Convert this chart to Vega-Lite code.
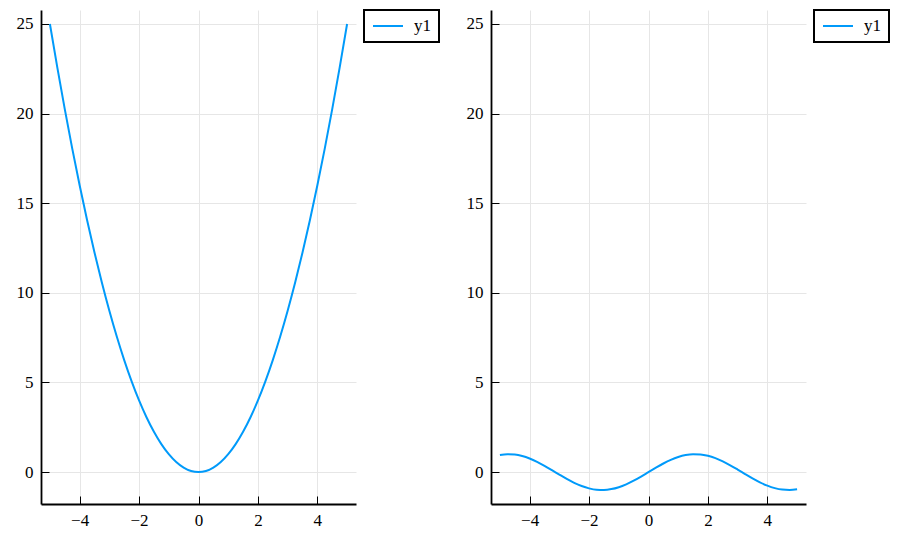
{
  "$schema": "https://vega.github.io/schema/vega-lite/v6.json",
  "background": "white",
  "padding": {"left": 16, "top": 9, "right": 5, "bottom": 5},
  "datasets": {
    "quad": [
      {"x": -5, "y": 25, "series": "y1"}, {"x": -4.75, "y": 22.5625, "series": "y1"}, {"x": -4.5, "y": 20.25, "series": "y1"}, {"x": -4.25, "y": 18.0625, "series": "y1"},
      {"x": -4, "y": 16, "series": "y1"}, {"x": -3.75, "y": 14.0625, "series": "y1"}, {"x": -3.5, "y": 12.25, "series": "y1"}, {"x": -3.25, "y": 10.5625, "series": "y1"},
      {"x": -3, "y": 9, "series": "y1"}, {"x": -2.75, "y": 7.5625, "series": "y1"}, {"x": -2.5, "y": 6.25, "series": "y1"}, {"x": -2.25, "y": 5.0625, "series": "y1"},
      {"x": -2, "y": 4, "series": "y1"}, {"x": -1.75, "y": 3.0625, "series": "y1"}, {"x": -1.5, "y": 2.25, "series": "y1"}, {"x": -1.25, "y": 1.5625, "series": "y1"},
      {"x": -1, "y": 1, "series": "y1"}, {"x": -0.75, "y": 0.5625, "series": "y1"}, {"x": -0.5, "y": 0.25, "series": "y1"}, {"x": -0.25, "y": 0.0625, "series": "y1"},
      {"x": 0, "y": 0, "series": "y1"},
      {"x": 0.25, "y": 0.0625, "series": "y1"}, {"x": 0.5, "y": 0.25, "series": "y1"}, {"x": 0.75, "y": 0.5625, "series": "y1"}, {"x": 1, "y": 1, "series": "y1"},
      {"x": 1.25, "y": 1.5625, "series": "y1"}, {"x": 1.5, "y": 2.25, "series": "y1"}, {"x": 1.75, "y": 3.0625, "series": "y1"}, {"x": 2, "y": 4, "series": "y1"},
      {"x": 2.25, "y": 5.0625, "series": "y1"}, {"x": 2.5, "y": 6.25, "series": "y1"}, {"x": 2.75, "y": 7.5625, "series": "y1"}, {"x": 3, "y": 9, "series": "y1"},
      {"x": 3.25, "y": 10.5625, "series": "y1"}, {"x": 3.5, "y": 12.25, "series": "y1"}, {"x": 3.75, "y": 14.0625, "series": "y1"}, {"x": 4, "y": 16, "series": "y1"},
      {"x": 4.25, "y": 18.0625, "series": "y1"}, {"x": 4.5, "y": 20.25, "series": "y1"}, {"x": 4.75, "y": 22.5625, "series": "y1"}, {"x": 5, "y": 25, "series": "y1"}
    ],
    "sine": [
      {"x": -5, "y": 0.9589, "series": "y1"}, {"x": -4.75, "y": 0.9993, "series": "y1"}, {"x": -4.5, "y": 0.9775, "series": "y1"}, {"x": -4.25, "y": 0.895, "series": "y1"},
      {"x": -4, "y": 0.7568, "series": "y1"}, {"x": -3.75, "y": 0.5716, "series": "y1"}, {"x": -3.5, "y": 0.3508, "series": "y1"}, {"x": -3.25, "y": 0.1082, "series": "y1"},
      {"x": -3, "y": -0.1411, "series": "y1"}, {"x": -2.75, "y": -0.3817, "series": "y1"}, {"x": -2.5, "y": -0.5985, "series": "y1"}, {"x": -2.25, "y": -0.7781, "series": "y1"},
      {"x": -2, "y": -0.9093, "series": "y1"}, {"x": -1.75, "y": -0.984, "series": "y1"}, {"x": -1.5, "y": -0.9975, "series": "y1"}, {"x": -1.25, "y": -0.949, "series": "y1"},
      {"x": -1, "y": -0.8415, "series": "y1"}, {"x": -0.75, "y": -0.6816, "series": "y1"}, {"x": -0.5, "y": -0.4794, "series": "y1"}, {"x": -0.25, "y": -0.2474, "series": "y1"},
      {"x": 0, "y": 0, "series": "y1"},
      {"x": 0.25, "y": 0.2474, "series": "y1"}, {"x": 0.5, "y": 0.4794, "series": "y1"}, {"x": 0.75, "y": 0.6816, "series": "y1"}, {"x": 1, "y": 0.8415, "series": "y1"},
      {"x": 1.25, "y": 0.949, "series": "y1"}, {"x": 1.5, "y": 0.9975, "series": "y1"}, {"x": 1.75, "y": 0.984, "series": "y1"}, {"x": 2, "y": 0.9093, "series": "y1"},
      {"x": 2.25, "y": 0.7781, "series": "y1"}, {"x": 2.5, "y": 0.5985, "series": "y1"}, {"x": 2.75, "y": 0.3817, "series": "y1"}, {"x": 3, "y": 0.1411, "series": "y1"},
      {"x": 3.25, "y": -0.1082, "series": "y1"}, {"x": 3.5, "y": -0.3508, "series": "y1"}, {"x": 3.75, "y": -0.5716, "series": "y1"}, {"x": 4, "y": -0.7568, "series": "y1"},
      {"x": 4.25, "y": -0.895, "series": "y1"}, {"x": 4.5, "y": -0.9775, "series": "y1"}, {"x": 4.75, "y": -0.9993, "series": "y1"}, {"x": 5, "y": -0.9589, "series": "y1"}
    ]
  },
  "spacing": 26,
  "resolve": {"scale": {"color": "independent"}, "legend": {"color": "independent"}},
  "hconcat": [
    {
      "width": 315,
      "height": 494,
      "data": {"name": "quad"},
      "mark": {"type": "line", "strokeWidth": 2, "interpolate": "monotone", "color": "#009AFA"},
      "encoding": {
        "x": {"field": "x", "type": "quantitative", "scale": {"domain": [-5.3, 5.3], "nice": false, "zero": false}, "axis": {"values": [-4, -2, 0, 2, 4], "title": null}},
        "y": {"field": "y", "type": "quantitative", "scale": {"domain": [-1.78, 25.78], "nice": false, "zero": false}, "axis": {"values": [0, 5, 10, 15, 20, 25], "title": null}},
        "color": {"field": "series", "type": "nominal", "scale": {"range": ["#009AFA"]}, "legend": {"title": null, "orient": "right", "offset": 8}}
      }
    },
    {
      "width": 315,
      "height": 494,
      "data": {"name": "sine"},
      "mark": {"type": "line", "strokeWidth": 2, "interpolate": "monotone", "color": "#009AFA"},
      "encoding": {
        "x": {"field": "x", "type": "quantitative", "scale": {"domain": [-5.3, 5.3], "nice": false, "zero": false}, "axis": {"values": [-4, -2, 0, 2, 4], "title": null}},
        "y": {"field": "y", "type": "quantitative", "scale": {"domain": [-1.78, 25.78], "nice": false, "zero": false}, "axis": {"values": [0, 5, 10, 15, 20, 25], "title": null}},
        "color": {"field": "series", "type": "nominal", "scale": {"range": ["#009AFA"]}, "legend": {"title": null, "orient": "right", "offset": 8}}
      }
    }
  ],
  "config": {
    "view": {"stroke": null},
    "axis": {
      "domainColor": "black",
      "domainWidth": 1.8,
      "tickColor": "black",
      "tickSize": -8,
      "tickWidth": 1,
      "gridColor": "#e6e6e6",
      "gridWidth": 1,
      "labelFont": "Liberation Serif",
      "labelFontSize": 17,
      "labelColor": "#000000",
      "labelPadding": 16
    },
    "legend": {
      "symbolType": "stroke",
      "symbolSize": 900,
      "symbolStrokeWidth": 2,
      "clipHeight": 16,
      "labelFont": "Liberation Serif",
      "labelFontSize": 17,
      "labelColor": "#000000",
      "labelOffset": 10,
      "padding": 8,
      "strokeColor": "black",
      "strokeWidth": 2
    }
  }
}
